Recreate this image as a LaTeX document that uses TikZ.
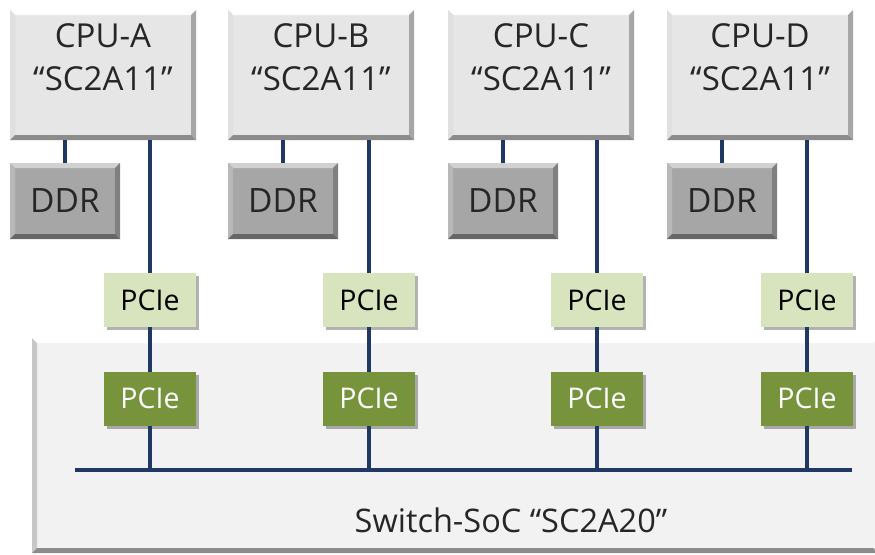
\documentclass[tikz,border=0pt]{standalone}
\usepackage{fontspec}
\setmainfont{Open Sans}
\usepackage{tikz}
\usetikzlibrary{calc,shadows,positioning}

\definecolor{cpugray}{HTML}{E6E6E6}
\definecolor{ddrgray}{HTML}{A6A6A6}
\definecolor{socgray}{HTML}{F2F2F2}
\definecolor{pcielight}{HTML}{D7E4BD}
\definecolor{pciedark}{HTML}{77933C}
\definecolor{navy}{HTML}{1F3864}
\definecolor{txt}{HTML}{262626}

% bevelled edges: node, top, left, right, bottom, width
\newcommand{\bevel}[6]{%
  \fill[#2] (#1.north west) -- (#1.north east) -- ($(#1.north east)+(-#6,#6)$) -- ($(#1.north west)+(#6,#6)$) -- cycle;
  \fill[#3] (#1.north west) -- (#1.south west) -- ($(#1.south west)+(#6,-#6)$) -- ($(#1.north west)+(#6,#6)$) -- cycle;
  \fill[#4] (#1.north east) -- (#1.south east) -- ($(#1.south east)+(-#6,-#6)$) -- ($(#1.north east)+(-#6,#6)$) -- cycle;
  \fill[#5] (#1.south west) -- (#1.south east) -- ($(#1.south east)+(-#6,-#6)$) -- ($(#1.south west)+(#6,-#6)$) -- cycle;
}

\begin{document}
\begin{tikzpicture}[x=1pt,y=-1pt]
	\tikzstyle{every node} = [inner sep=0pt, outer sep=0pt, text=txt]
	\tikzstyle{cpu} = [rectangle, fill=cpugray, minimum width=186pt, minimum height=130pt]
	\tikzstyle{cputext} = [anchor=base, align=center, font=\fontsize{33}{43}\selectfont]
	\tikzstyle{ddrtext} = [font=\fontsize{33.5}{36}\selectfont]
	\tikzstyle{ddr} = [rectangle, fill=ddrgray, minimum width=110pt, minimum height=76pt]
	\tikzstyle{pcie} = [rectangle, fill=pcielight, minimum width=92pt, minimum height=54pt, font=\fontsize{28.5}{30}\selectfont, text=black,
	  drop shadow={shadow xshift=3pt, shadow yshift=-3pt, opacity=.3, fill=black}]
	\tikzstyle{pciein} = [pcie, fill=pciedark, text=white]
	\tikzstyle{bus} = [draw=navy, line width=4pt]
\useasboundingbox (0,0) rectangle (875,554);
\fill[white] (0,0) rectangle (875,554);

% switch soc
\node[rectangle, fill=socgray, minimum width=846pt, minimum height=215pt] (soc) at (455,445.5) {};
\bevel{soc}{white}{black!22}{socgray}{black!45}{5}
\node[anchor=base, font=\fontsize{32.5}{36}\selectfont] (soctext) at (511,532) {Switch-SoC ``SC2A20''};

% cpus
\node[cpu] (A) at (103,75) {};
\node[cpu] (B) at (321,75) {};
\node[cpu] (C) at (541,75) {};
\node[cpu] (D) at (760,75) {};
\bevel{A}{white}{black!12}{black!35}{black!45}{5}
\bevel{B}{white}{black!12}{black!35}{black!45}{5}
\bevel{C}{white}{black!12}{black!35}{black!45}{5}
\bevel{D}{white}{black!12}{black!35}{black!45}{5}
\node[cputext] (At) at (103,90) {CPU-A\\``SC2A11''};
\node[cputext] (Bt) at (321,90) {CPU-B\\``SC2A11''};
\node[cputext] (Ct) at (541,90) {CPU-C\\``SC2A11''};
\node[cputext] (Dt) at (760,90) {CPU-D\\``SC2A11''};

% memory
\node[ddr] (mA) at (65,201) {};
\node[ddr] (mB) at (283,201) {};
\node[ddr] (mC) at (503,201) {};
\node[ddr] (mD) at (722,201) {};
\bevel{mA}{black!18}{black!28}{black!50}{black!60}{5}
\bevel{mB}{black!18}{black!28}{black!50}{black!60}{5}
\bevel{mC}{black!18}{black!28}{black!50}{black!60}{5}
\bevel{mD}{black!18}{black!28}{black!50}{black!60}{5}
\node[ddrtext] (mAt) at (mA) {DDR};
\node[ddrtext] (mBt) at (mB) {DDR};
\node[ddrtext] (mCt) at (mC) {DDR};
\node[ddrtext] (mDt) at (mD) {DDR};
	\path[bus] (mA.north) -- (mA.north |- A.south);
	\path[bus] (mB.north) -- (mB.north |- B.south);
	\path[bus] (mC.north) -- (mC.north |- C.south);
	\path[bus] (mD.north) -- (mD.north |- D.south);

% pcie links
\coordinate (busL) at (75,470);
\coordinate (busR) at (852,470);
	\path[bus] (busL) -- (busR);
\node[pcie] (pA) at (150,300) {PCIe};
\node[pcie] (pB) at (369,300) {PCIe};
\node[pcie] (pC) at (597,300) {PCIe};
\node[pcie] (pD) at (807,300) {PCIe};
\node[pciein] (qA) at (150,398.5) {PCIe};
\node[pciein] (qB) at (369,398.5) {PCIe};
\node[pciein] (qC) at (597,398.5) {PCIe};
\node[pciein] (qD) at (807,398.5) {PCIe};
	\path[bus] (pA.north) -- (pA.north |- A.south);
	\path[bus] (pB.north) -- (pB.north |- B.south);
	\path[bus] (pC.north) -- (pC.north |- C.south);
	\path[bus] (pD.north) -- (pD.north |- D.south);
	\path[bus] (pA) -- (qA);
	\path[bus] (pB) -- (qB);
	\path[bus] (pC) -- (qC);
	\path[bus] (pD) -- (qD);
	\path[bus] (qA.south) -- (qA |- busL);
	\path[bus] (qB.south) -- (qB |- busL);
	\path[bus] (qC.south) -- (qC |- busL);
	\path[bus] (qD.south) -- (qD |- busL);
\end{tikzpicture}
\end{document}
